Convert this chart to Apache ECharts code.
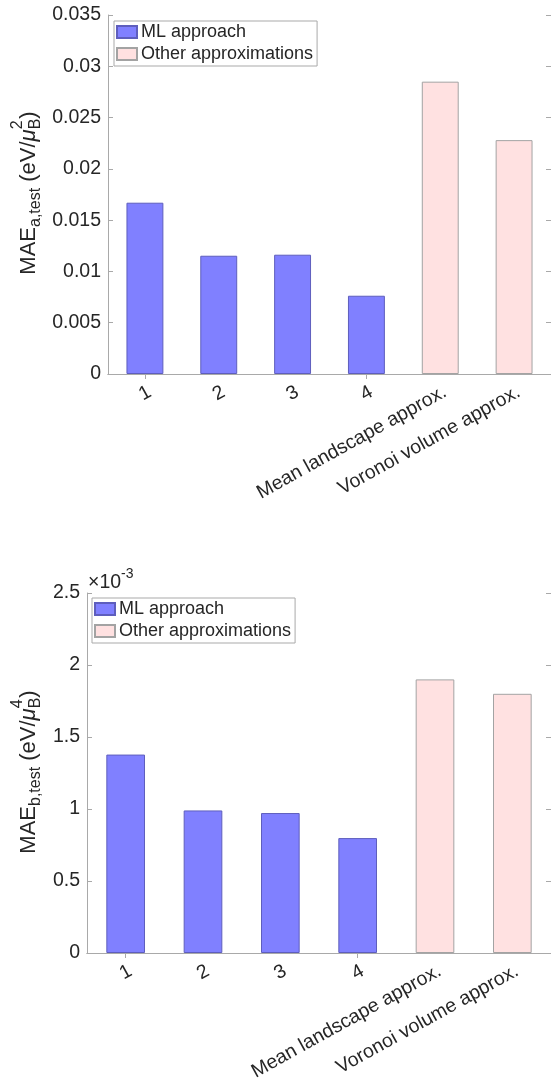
<!DOCTYPE html>
<html><head><meta charset="utf-8">
<script src="https://cdn.jsdelivr.net/npm/echarts@6/dist/echarts.min.js"></script>
<style>html,body{margin:0;padding:0;background:#fff}#c{width:551px;height:1090px}</style>
</head><body><div id="c"></div>
<script>
// ---------- data ----------
const categories = ['1', '2', '3', '4', 'Mean landscape approx.', 'Voronoi volume approx.'];
const seriesNames = ['ML approach', 'Other approximations'];
// MAE_a,test (eV/muB^2)
const maeA_ML    = [0.0167, 0.01153, 0.01163, 0.00763, null, null];
const maeA_Other = [null, null, null, null, 0.0285, 0.0228];
// MAE_b,test (eV/muB^4)
const maeB_ML    = [0.001378, 0.000990, 0.000972, 0.000798, null, null];
const maeB_Other = [null, null, null, null, 0.001900, 0.001800];
const axisA = {min: 0, max: 0.035, interval: 0.005};
const axisB = {min: 0, max: 0.0025, interval: 0.0005};

// ---------- style ----------
const FONT = "'Liberation Sans', Arial, Helvetica, sans-serif";
const TXT = '#262626';
const LINE = '#a9a9a9';
const BLUE = '#8080ff', BLUE_EDGE = '#5e5ebd';
const PINK = '#ffe1e1', PINK_EDGE = '#a3a3a3';

const cvs = document.createElement('canvas').getContext('2d');
function tw(t, size, italic) { cvs.font = (italic ? 'italic ' : '') + size + 'px ' + FONT; return cvs.measureText(t).width; }

function yTitle(subTxt, supTxt, cx, cy) {
  const big = 22, small = 16;
  const parts = [
    [{t: 'MAE', s: big, dy: 0}],
    [{t: subTxt, s: small, dy: 7}],
    [{t: ' (eV/', s: big, dy: 0}],
    [{t: 'μ', s: big, dy: 0, it: true}],
    [{t: 'B', s: small, dy: 7}, {t: supTxt, s: small, dy: -11}],
    [{t: ')', s: big, dy: 0}]
  ];
  const widths = parts.map(p => Math.max(...p.map(q => tw(q.t, q.s, q.it))));
  const W = widths.reduce((a, b) => a + b, 0);
  let x = -W / 2;
  const children = [];
  parts.forEach((p, i) => {
    p.forEach(q => {
      children.push({type: 'text', style: {text: q.t, x: x, y: q.dy, fontSize: q.s, fontFamily: FONT,
        fontStyle: q.it ? 'italic' : 'normal', fill: TXT, align: 'left', textAlign: 'left',
        verticalAlign: 'middle', textVerticalAlign: 'middle'}});
    });
    x += widths[i];
  });
  return {type: 'group', x: cx, y: cy, rotation: Math.PI / 2, children: children, silent: true};
}

function xAx(grid, pos, show) {
  return {
    type: 'category', gridIndex: grid, position: pos, data: categories,
    axisLine: {show: true, lineStyle: {color: LINE, width: 1}},
    axisTick: {show: true, inside: true, alignWithLabel: true, length: 5, lineStyle: {color: LINE}},
    axisLabel: show ? {show: true, interval: 0, rotate: 29, fontSize: 19.5, fontFamily: FONT, color: TXT,
      margin: 8, align: 'right', verticalAlign: 'top', hideOverlap: false} : {show: false},
    splitLine: {show: false}
  };
}
function yAx(grid, pos, ax, show, fmt) {
  return {
    type: 'value', gridIndex: grid, position: pos, min: ax.min, max: ax.max, interval: ax.interval,
    axisLine: {show: true, lineStyle: {color: LINE, width: 1}},
    axisTick: {show: true, inside: true, length: 5, lineStyle: {color: LINE}},
    axisLabel: show ? {show: true, fontSize: 19.5, fontFamily: FONT, color: TXT, margin: 7, formatter: fmt} : {show: false},
    splitLine: {show: false}
  };
}
function bar(name, data, xi, yi, stack, color, edge) {
  return {type: 'bar', name: name, data: data, xAxisIndex: xi, yAxisIndex: yi, stack: stack,
    barWidth: '50%', itemStyle: {color: color, borderColor: edge, borderWidth: 1}};
}
function legend(left, top) {
  return {orient: 'vertical', left: left, top: top, data: seriesNames, icon: 'rect',
    itemWidth: 20, itemHeight: 12, itemGap: 4, padding: [2, 4, 3, 2],
    borderColor: LINE, borderWidth: 1, backgroundColor: '#fff',
    textStyle: {fontSize: 18, fontFamily: FONT, color: TXT, padding: [0, 0, 0, -1]}};
}

const fmtA = v => String(+v.toFixed(3));
const fmtB = v => String(+(v * 1000).toFixed(1));

const option = {
  animation: false,
  backgroundColor: '#fff',
  grid: [
    {left: 108, top: 15, width: 444, height: 359},
    {left: 87, top: 593, width: 466, height: 360}
  ],
  xAxis: [xAx(0, 'bottom', true), xAx(0, 'top', false), xAx(1, 'bottom', true), xAx(1, 'top', false)],
  yAxis: [yAx(0, 'left', axisA, true, fmtA), yAx(0, 'right', axisA, false), yAx(1, 'left', axisB, true, fmtB), yAx(1, 'right', axisB, false)],
  legend: [legend(114, 21), legend(92, 598)],
  series: [
    bar(seriesNames[0], maeA_ML, 0, 0, 'a', BLUE, BLUE_EDGE),
    bar(seriesNames[1], maeA_Other, 0, 0, 'a', PINK, PINK_EDGE),
    bar(seriesNames[0], maeB_ML, 2, 2, 'b', BLUE, BLUE_EDGE),
    bar(seriesNames[1], maeB_Other, 2, 2, 'b', PINK, PINK_EDGE)
  ],
  graphic: [
    yTitle('a,test', '2', 29, 193),
    yTitle('b,test', '4', 29, 772),
    {type: 'text', silent: true, style: {text: '×10', x: 88, y: 582.5, fontSize: 19.5, fontFamily: FONT, fill: TXT,
      align: 'left', textAlign: 'left', verticalAlign: 'middle', textVerticalAlign: 'middle'}},
    {type: 'text', silent: true, style: {text: '-3', x: 88 + tw('×10', 19.5), y: 574.5, fontSize: 14, fontFamily: FONT, fill: TXT,
      align: 'left', textAlign: 'left', verticalAlign: 'middle', textVerticalAlign: 'middle'}}
  ]
};
const chart = echarts.init(document.getElementById('c'), null, {renderer: 'canvas'});
chart.setOption(option);
</script>
</body></html>
